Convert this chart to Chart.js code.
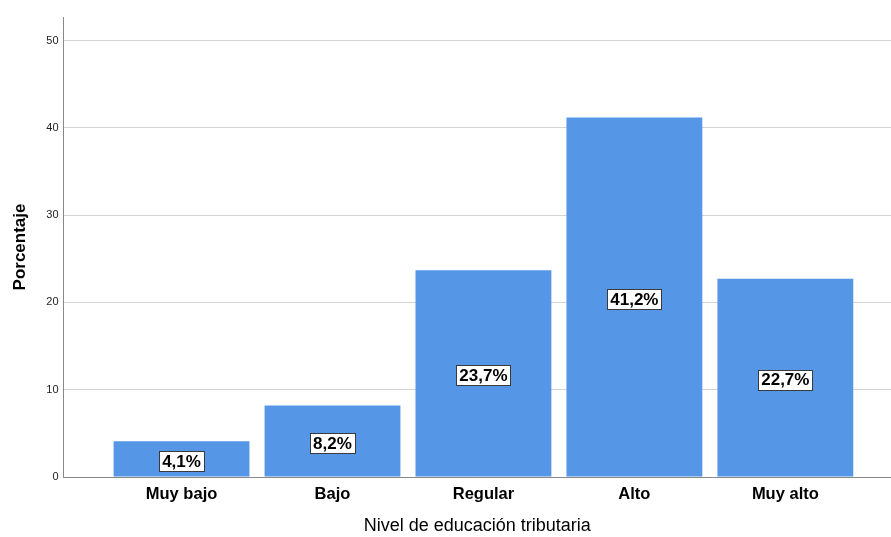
<!DOCTYPE html>
<html>
<head>
<meta charset="utf-8">
<script src="https://cdn.jsdelivr.net/npm/chart.js@4.4.1/dist/chart.umd.min.js"></script>
<style>
  html, body { margin: 0; padding: 0; background: #ffffff; }
  #wrap { width: 891px; height: 537px; position: relative; }
</style>
</head>
<body>
<div id="wrap"><canvas id="c" width="891" height="537"></canvas></div>
<script>
// Nivel de educación tributaria — distribución porcentual
const categories = ['Muy bajo', 'Bajo', 'Regular', 'Alto', 'Muy alto'];
const percentages = [4.1, 8.2, 23.7, 41.2, 22.7];
const yTickValues = [0, 10, 20, 30, 40, 50];

const FONT = "'Liberation Sans', Arial, sans-serif";

const points = percentages.map((v, i) => ({ x: i, y: v }));

// Boxed percentage labels centred inside each bar
const boxLabels = {
  id: 'boxLabels',
  afterDatasetsDraw(chart) {
    const ctx = chart.ctx;
    const meta = chart.getDatasetMeta(0);
    ctx.save();
    ctx.font = 'bold 17px ' + FONT;
    ctx.textAlign = 'center';
    ctx.textBaseline = 'middle';
    meta.data.forEach((bar, i) => {
      const txt = percentages[i].toFixed(1).replace('.', ',') + '%';
      const cx = bar.x;
      const cy = (bar.y + bar.base) / 2 + 2;
      const w = Math.round(ctx.measureText(txt).width + 6);
      const h = 20;
      const x0 = Math.round(cx - w / 2) + 0.5;
      const y0 = Math.round(cy - h / 2) + 0.5;
      ctx.fillStyle = '#ffffff';
      ctx.fillRect(x0, y0, w, h);
      ctx.strokeStyle = '#3a3a3a';
      ctx.lineWidth = 1;
      ctx.strokeRect(x0, y0, w, h);
      ctx.fillStyle = '#000000';
      ctx.fillText(txt, cx, cy + 1);
    });
    ctx.restore();
  }
};

new Chart(document.getElementById('c'), {
  type: 'bar',
  data: {
    datasets: [{
      data: points,
      backgroundColor: '#5596e6',
      borderWidth: 0,
      categoryPercentage: 1.0,
      barPercentage: 0.9
    }]
  },
  options: {
    responsive: false,
    animation: false,
    events: [],
    layout: { padding: { top: 17, right: 0, left: 0, bottom: 0 } },
    plugins: {
      legend: { display: false },
      tooltip: { enabled: false }
    },
    scales: {
      x: {
        type: 'linear',
        offset: false,
        min: -0.782,
        max: 4.70,
        afterFit(scale) { scale.height = 60; },
        afterBuildTicks(scale) {
          scale.ticks = categories.map((_, i) => ({ value: i }));
        },
        grid: { display: false, drawTicks: false },
        border: { display: true, color: '#888888', width: 1 },
        ticks: {
          autoSkip: false,
          maxRotation: 0,
          padding: 8,
          color: '#000000',
          font: { family: FONT, size: 16.5, weight: 'bold' },
          callback: (v) => categories[v] ?? ''
        },
        title: {
          display: true,
          text: 'Nivel de educación tributaria',
          color: '#000000',
          font: { family: FONT, size: 18 },
          padding: { top: 10, bottom: 0 }
        }
      },
      y: {
        min: 0,
        max: 52.7,
        afterFit(scale) { scale.width = 63.5; },
        afterBuildTicks(scale) {
          scale.ticks = yTickValues.map(v => ({ value: v }));
        },
        grid: {
          color: (c) => c.tick && c.tick.value === 0 ? '#888888' : '#d4d4d4',
          lineWidth: 1,
          drawTicks: true,
          tickLength: 0
        },
        border: { display: true, color: '#888888', width: 1 },
        ticks: {
          padding: 5,
          color: '#222222',
          font: { family: FONT, size: 11 }
        },
        title: {
          display: true,
          text: 'Porcentaje',
          color: '#000000',
          font: { family: FONT, size: 17, weight: 'bold' },
          padding: { top: 10, bottom: 8 }
        }
      }
    }
  },
  plugins: [boxLabels]
});
</script>
</body>
</html>
